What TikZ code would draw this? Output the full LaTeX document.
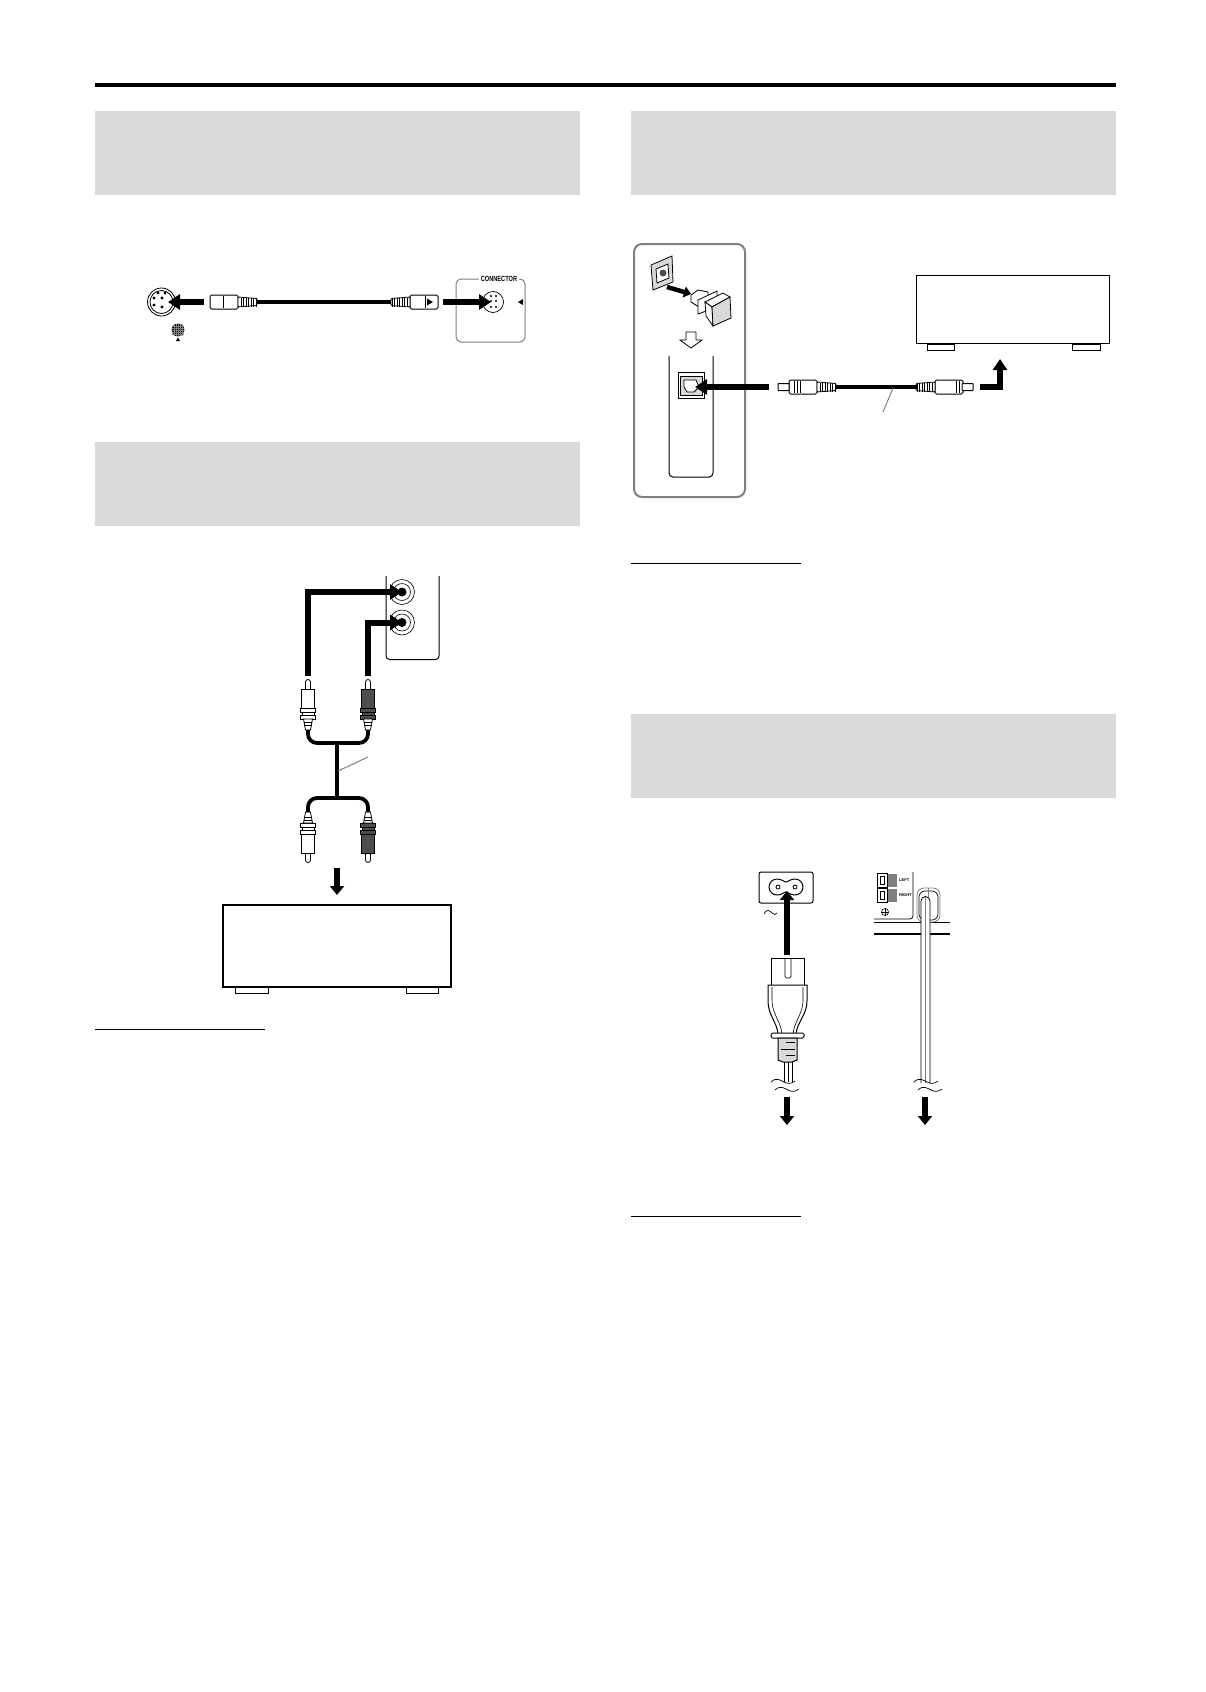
\documentclass[tikz,border=0pt]{standalone}
\usepackage{fontspec}
\setmainfont{Liberation Sans}
\usetikzlibrary{arrows.meta}
\definecolor{bandgray}{HTML}{D9D9D9}
\definecolor{plugdark}{HTML}{4D4D4D}
\definecolor{panelgray}{HTML}{808080}
\tikzset{
  band/.style={fill=bandgray,draw=none},
  bigarrow/.style={line width=6pt,-{Triangle[length=12pt,width=15pt]}},
  smallarrow/.style={line width=5.6pt,-{Triangle[length=9pt,width=14pt]}},
  cable/.style={line width=3.8pt},
  leader/.style={draw=panelgray,line width=1pt},
  outline/.style={line width=1pt},
  amplifier/.style={draw,line width=1.6pt,fill=white},
  jack/.style={circle,draw,line width=.6pt,inner sep=0pt,minimum size=#1}
}
% RCA plug, pin up for sign 1 and pin down for sign -1
\newcommand{\rcaplug}[4]{
  \begin{scope}[shift={(#1,#2)},yscale=#3,outline]
    \draw[fill=white,line width=.8pt] (-2.5,0) -- (-2.5,-7) arc (180:360:2.5) -- (2.5,0);
    \draw[fill=#4,line width=.8pt] (-6.5,0) rectangle (6.5,19);
    \draw[fill=#4,line width=.8pt] (-7.5,19) rectangle (7.5,23) (-6,23) rectangle (6,26) (-7.5,26) rectangle (7.5,30);
    \draw[fill=white,line width=.8pt] (-4.5,30) -- (-2.5,41) -- (2.5,41) -- (4.5,30) -- cycle;
    \foreach \y in {33,36} {\draw[line width=.5pt] (-4,\y) -- (4,\y);}
  \end{scope}
}
% cable plug lying flat: body then ribbed neck, direction given by sign
\newcommand{\flatplug}[3]{
  \begin{scope}[shift={(#1,#2)},xscale=#3]
    \draw[fill=white,line width=1pt,rounded corners=1.5pt] (0,-7) rectangle (28,7);
    \draw[fill=white,line width=.8pt,rounded corners=1pt] (28,-5) -- (47,-3.5) -- (47,3.5) -- (28,5) -- cycle;
    \foreach \x in {31,33.5,...,46} {\draw[line width=.8pt] (\x,-4.5) -- (\x,4.5);}
  \end{scope}
}
\newcommand{\wavy}[2]{
  \draw[line width=.7pt] (#1,#2) .. controls (#1+5,#2-5) and (#1+9,#2-2) .. (#1+13,#2) .. controls (#1+17,#2+2) and (#1+20,#2+2) .. (#1+24,#2-1);
}
\begin{document}
\begin{tikzpicture}[x=1pt,y=-1pt]
\useasboundingbox[fill=white] (0,0) rectangle (1206,1692);
% Rule along the top and the four bands
\draw[line width=3.4pt] (95,85) -- (1116,85);
\foreach \x/\y in {95/111,95/442,631/111,631/714}
{
  \fill[band] (\x,\y) rectangle ++(485,84);
}
% Short rules
\foreach \x/\y in {95/1029,631/563,631/1216}
{
  \draw[line width=.8pt] (\x,\y) -- ++(170,0);
}

% First cable: round sockets at each end
\node[jack=28pt,line width=.8pt] (din1) at (161.5,302) {};
\node[jack=23pt,line width=.8pt] (din1in) at (161.5,302) {};
\foreach \x/\y in {158/293,165/293,154/298,162/298,154/305,162/307}
{
  \fill (\x,\y) circle (1.6pt);
}
\node[jack=12pt,fill=black] (grid1) at (178,330) {};
\foreach \i in {-4,-2,...,4}
{
  \draw[panelgray,line width=.4pt] (172,330+\i) -- (184,330+\i) (178+\i,324) -- (178+\i,336);
}
\fill (178,337.5) -- (176,341) -- (180,341) -- cycle;
\draw[outline,draw=panelgray,rounded corners=5pt] (456,279) rectangle (525,342);
\node[fill=white,inner sep=2pt,font=\bfseries\fontsize{7.5}{7.5}\selectfont,xscale=.75] (conn) at (499,279) {CONNECTOR};
\node[jack=21pt,line width=.7pt] (din2) at (493,302) {};
\foreach \x/\y in {-2/-6,3/-6,-2/-1,3/-1,-2/5,3/5}
{
  \fill (493+\x,302+\y) circle (1.1pt);
}
\fill (518,302) -- (523,299) -- (523,305) -- cycle;
\coordinate (din1from) at (204,302);
\coordinate (din2from) at (443,302);
\draw[bigarrow] (din1from) -- (168,302);
\draw[bigarrow] (din2from) -- (491,302);
\flatplug{210}{302}{1}
\flatplug{438}{302}{-1}
\coordinate (din1neck) at (257,302);
\coordinate (din2neck) at (391,302);
\draw[cable] (din1neck) -- (din2neck);
\draw[line width=.8pt] (223,296) -- (223,308);
\draw[line width=.8pt] (425,296) -- (425,308);
\fill (427,298.5) -- (433,302) -- (427,305.5) -- cycle;

% Second cable: two pairs of plugs
\draw[outline] (386,576) -- (386,656) arc (180:90:3.5) -- (435.5,659.5) arc (90:0:3.5) -- (439,576);
\node[jack=25pt,fill=white] (jack1) at (402,592) {};
\node[jack=25pt,fill=white] (jack2) at (402,622.5) {};
\foreach \j in {1,2}
{
  \node[jack=17pt] (ring\j) at (jack\j) {};
  \fill (jack\j) circle (4.5pt);
}
\coordinate (top1) at (308,676);
\coordinate (top2) at (368,676);
\draw[bigarrow] (top1) |- (jack1.center);
\draw[bigarrow] (top2) |- (jack2.center);
\rcaplug{308}{689}{1}{white}
\rcaplug{368}{689}{1}{plugdark}
\rcaplug{308}{853}{-1}{white}
\rcaplug{368}{853}{-1}{plugdark}
\coordinate (split1) at (337,743);
\coordinate (split2) at (337,798);
\draw[cable,rounded corners=9pt] (308,730) -- (308,743) -- (368,743) -- (368,730);
\draw[cable,rounded corners=9pt] (308,812) -- (308,798) -- (368,798) -- (368,812);
\draw[cable] (split1) -- (split2);
\coordinate (lead1) at (368,757);
\draw[leader] (lead1) -- (338,771);
\node[amplifier,minimum width=228pt,minimum height=82pt,inner sep=0pt] (amp1) at (337,946) {};
\draw[outline] (235,987) rectangle (268,993) (406,987) rectangle (438,993);
\coordinate (amp1from) at (337,868);
\coordinate (amp1to) at (337,895);
\draw[smallarrow] (amp1from) -- (amp1to);

% Third cable: panel with the cap and the optical socket
\draw[draw=panelgray,line width=2pt,rounded corners=8pt] (634,244) rectangle (745,497);
\draw[line width=1pt] (669,356) -- (669,473) arc (180:90:4) -- (709,477) arc (90:0:4) -- (713,356);
% small socket seen from the side
\draw[fill=bandgray,line width=.8pt] (651,265) -- (672,256) -- (673,282) -- (653,290) -- cycle;
\draw[fill=white,line width=.8pt] (656,269) -- (668,264) -- (669,278) -- (657,283) -- cycle;
\fill[plugdark] (663,273) circle (3.5pt);
\draw[line width=4.5pt,-{Triangle[length=7pt,width=11pt]}] (667,287) -- (691,294);
% cap
\draw[fill=white,line width=.8pt] (691,295) -- (698,290) -- (708,292) -- (708,303) -- (699,307) -- (691,302) -- cycle;
\draw[fill=white,line width=.8pt] (698,300) -- (717,291) -- (717,307) -- (698,314) -- cycle;
\draw[fill=white,line width=.8pt] (705,302) -- (723,293) -- (730,297) -- (712,307) -- cycle;
\draw[fill=white,line width=.8pt] (705,302) -- (712,307) -- (713,326) -- (706,316) -- cycle;
\draw[fill=bandgray,line width=.8pt] (712,307) -- (730,297) -- (731,318) -- (713,326) -- cycle;
\draw[line width=.8pt,fill=white] (686,332) -- (696,332) -- (696,340) -- (702,340) -- (691,348) -- (680,340) -- (686,340) -- cycle;
% socket below the cap
\node[draw,line width=1pt,minimum size=26pt,inner sep=0pt] (opt1) at (691,385.5) {};
\draw[fill=bandgray,line width=.8pt] (680,376) -- (702,376) -- (702,395) -- (680,395) -- cycle;
\draw[fill=white,line width=.8pt] (684,380) -- (696,380) -- (699,387) -- (694,392) -- (687,392) -- (684,387) -- cycle;
\coordinate (opt1from) at (769,387);
\draw[bigarrow] (opt1from) -- (695,387);
\flatplug{789}{387}{1}
\flatplug{963}{387}{-1}
\foreach \x/\y in {778/789,973/962}
{
  \draw[fill=white,line width=1pt,rounded corners=.5pt] (\x,383.5) rectangle (\y,390.5);
}
\foreach \x in {794,797,800,956,959}
{
  \draw[line width=.8pt] (\x,381) -- (\x,393);
}
\coordinate (opt1neck) at (835,387);
\coordinate (opt2neck) at (917,387);
\draw[cable] (opt1neck) -- (opt2neck);
\coordinate (lead2) at (883,412);
\draw[leader] (lead2) -- (893,388);
\node[amplifier,minimum width=193pt,minimum height=68pt,inner sep=0pt] (amp2) at (1013,309.5) {};
\draw[outline] (927,344) rectangle (954,350) (1072,344) rectangle (1100,350);
\coordinate (amp2from) at (980,387);
\coordinate (amp2to) at (1000,359);
\draw[line width=6pt,-{Triangle[length=11pt,width=14pt]}] (amp2from) -| (amp2to);

% Mains inlet and its plug
\node[draw,line width=1pt,rounded corners=2pt,minimum width=54pt,minimum height=31pt,inner sep=0pt] (inlet) at (786,887.5) {};
\draw[line width=1pt] (777,879) arc (-90:-270:8) .. controls (782,895) and (784,892) .. (786,892) .. controls (788,892) and (790,895) .. (795,895) arc (90:-90:8) .. controls (790,879) and (788,882) .. (786,882) .. controls (784,882) and (782,879) .. (777,879) -- cycle;
\draw[line width=.8pt] (778,887) circle (2pt) (795,887) circle (2pt);
\draw[line width=.7pt] (764,914) .. controls (767,908) and (770,911) .. (772,913) .. controls (774,915) and (776,915) .. (777,913);
\draw[outline,fill=white] (771,958) -- (804,958) -- (804,985) -- (771,985) -- cycle;
\draw[line width=.7pt,rounded corners=1.5pt] (785,958) -- (785,978) -- (791,978) -- (791,958);
\draw[outline,fill=white] (768,985) -- (807,985) -- (807,1001) .. controls (807,1015) and (797,1022) .. (796,1034) -- (778,1034) .. controls (777,1022) and (768,1015) .. (768,1001) -- cycle;
\draw[line width=.6pt] (772,987) -- (772,1001) .. controls (772,1013) and (781,1022) .. (782,1034);
\draw[line width=.6pt] (803,987) -- (803,1001) .. controls (803,1013) and (794,1022) .. (793,1034);
\draw[outline,fill=white,rounded corners=1.5pt] (771,1033) rectangle (804,1038);
\draw[outline,fill=bandgray] (778,1038) -- (797,1038) -- (797,1060) -- (792,1062) -- (783,1062) -- (778,1060) -- cycle;
\foreach \y/\a in {1042/786,1049/781,1055/786}
{
  \draw[line width=.8pt] (\a,\y) -- (795,\y);
}
\draw[line width=.8pt] (784,1062) -- (784,1082) (788,1062) -- (788,1082) (792,1062) -- (792,1082);
\wavy{771}{1082}
\wavy{775}{1090}
\coordinate (plugfrom) at (787,955);
\coordinate (plugto) at (787,891);
\draw[smallarrow] (plugfrom) -- (plugto);
\coordinate (cordone) at (787,1097);
\coordinate (cordoneto) at (787,1125);
\draw[smallarrow] (cordone) -- (cordoneto);

% Speaker corner and the loop of the cord
\draw[line width=.8pt,rounded corners=3pt] (913,872) -- (913,919) -- (874,919);
\draw[line width=.8pt] (874,922) -- (950,922);
\draw[line width=1.2pt] (874,934) -- (950,934);
\foreach \y/\t in {880/LEFT,895.5/RIGHT}
{
  \draw[line width=.8pt] (877,\y-7) rectangle (887,\y+7) (880,\y-4) rectangle (884,\y+4);
  \fill[panelgray] (888,\y-6.5) rectangle (897,\y+6.5);
  \node[font=\bfseries\fontsize{4}{4}\selectfont,inner sep=0pt,anchor=west] (txt\t) at (899,\y) {\t};
}
\node[jack=7pt] (plusmark) at (885,912) {};
\draw[line width=.5pt] (881,912) -- (889,912) (885,908) -- (885,916);
\draw[line width=.8pt,draw=panelgray,rounded corners=7pt,fill=white] (917,888) rectangle (940,922);
\draw[line width=.7pt,rounded corners=6pt] (919,891) rectangle (938,920);
\draw[line width=.8pt,fill=white] (921,1083) -- (921,901) arc (180:360:4.5) -- (930,1083);
\draw[line width=.6pt,draw=panelgray] (928,888) -- (928,897);
\draw[line width=.6pt,draw=panelgray] (925.5,897) -- (925.5,1083);
\wavy{914}{1082}
\wavy{918}{1090}
\coordinate (cordtwo) at (925,1097);
\coordinate (cordtwoto) at (925,1125);
\draw[smallarrow] (cordtwo) -- (cordtwoto);
\end{tikzpicture}
\end{document}
